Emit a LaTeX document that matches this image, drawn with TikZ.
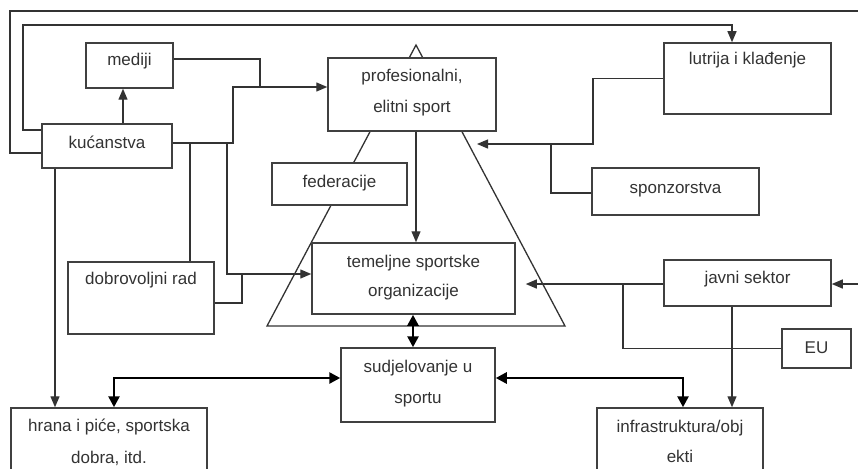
\documentclass[tikz,border=0pt]{standalone}
\usepackage{fontspec}
\setmainfont{Liberation Sans}
\usetikzlibrary{arrows.meta}
\begin{document}
\begin{tikzpicture}[x=1pt,y=-1pt,
  box/.style={draw=black!75, line width=1.5pt, fill=white, inner sep=0pt},
  txt/.style={anchor=base, inner sep=0pt, text=black!80, font=\fontsize{17}{20}\selectfont},
  ln/.style={draw=black!80, line width=1.3pt},
  arr/.style={ln, -{Triangle[length=11pt,width=9pt]}},
  dbl/.style={draw=black, line width=2.6pt, {Triangle[length=11pt,width=11pt]}-{Triangle[length=11pt,width=11pt]}}]
\newcommand{\bx}[5]{\node[box,minimum width={#4-#2},minimum height={#5-#3}] (#1) at ({(#2+#4)/2},{(#3+#5)/2}) {};}
\useasboundingbox (0,0) rectangle (858,468);
% triangle behind boxes
\draw[ln] (416,45) -- (267,326) -- (565,326) -- cycle;
% boxes
\bx{med}{86}{43}{173}{88}
\bx{kuc}{42}{124}{172}{168}
\bx{pro}{328}{58}{496}{131}
\bx{lut}{664}{43}{831}{114}
\bx{fed}{272}{163}{407}{205}
\bx{spo}{592}{168}{759}{215}
\bx{tem}{312}{243}{515}{314}
\bx{dob}{68}{262}{214}{334}
\bx{jav}{664}{260}{831}{306}
\bx{eu}{782}{329}{851}{368}
\bx{sud}{341}{348}{495}{422}
\bx{hra}{11}{408}{207}{485}
\bx{inf}{597}{408}{763}{485}
% texts
\node[txt] (tmed) at (med.center |- 0,66) {mediji};
\node[txt] (tkuc) at (kuc.center |- 0,148) {kućanstva};
\node[txt] (tpro1) at (pro.center |- 0,82) {profesionalni,};
\node[txt] (tpro2) at (pro.center |- 0,113) {elitni sport};
\node[txt] (tlut) at (lut.center |- 0,65) {lutrija i klađenje};
\node[txt] (tfed) at (fed.center |- 0,187) {federacije};
\node[txt] (tspo) at (spo.center |- 0,193) {sponzorstva};
\node[txt] (ttem1) at (tem.center |- 0,267) {temeljne sportske};
\node[txt] (ttem2) at (tem.center |- 0,296) {organizacije};
\node[txt] (tdob) at (dob.center |- 0,284) {dobrovoljni rad};
\node[txt] (tjav) at (jav.center |- 0,283) {javni sektor};
\node[txt] (teu) at (eu.center |- 0,353) {EU};
\node[txt] (tsud1) at (sud.center |- 0,372) {sudjelovanje u};
\node[txt] (tsud2) at (sud.center |- 0,403) {sportu};
\node[txt] (thra1) at (hra.center |- 0,431) {hrana i piće, sportska};
\node[txt] (thra2) at (hra.center |- 0,463) {dobra, itd.};
\node[txt] (tinf1) at (inf.center |- 0,432) {infrastruktura/obj};
\node[txt] (tinf2) at (inf.center |- 0,462) {ekti};
% connectors
\draw[arr] (kuc.west |- 0,153) -| (10,11) -- (862,11) |- (jav.east |- 0,284);
\draw[arr] (kuc.west |- 0,130) -| (23,25) -| (lut.north -| 732,0);
\draw[arr] (kuc.north -| 123,0) -- (med.south -| 123,0);
\draw[ln] (med.east |- 0,59) -| (260,87);
\draw[arr] (kuc.east |- 0,143) -| (233,87) -- (pro.west |- 0,87);
\draw[arr] (kuc.south -| 55,0) -- (hra.north -| 55,0);
\draw[ln] (190,143) -- (dob.north -| 190,0);
\draw[arr] (227,143) |- (tem.west |- 0,274);
\draw[ln] (dob.east |- 0,303) -| (242,274);
\draw[arr] (pro.south -| 416,0) -- (tem.north -| 416,0);
\draw[arr] (lut.west) -| (593,144) -- (477,144);
\draw[ln] (spo.west |- 0,193) -| (551,144);
\draw[arr, shorten >=10pt] (jav.west |- 0,284) -- (tem.east |- 0,284);
\draw[ln] (eu.west) -| (623,284);
\draw[arr] (jav.south -| 732,0) -- (inf.north -| 732,0);
\draw[dbl] (tem.south -| 413,0) -- (sud.north -| 413,0);
\draw[dbl] (sud.west |- 0,378) -| (hra.north -| 114,0);
\draw[dbl] (sud.east |- 0,378) -| (inf.north -| 683,0);
\end{tikzpicture}
\end{document}
